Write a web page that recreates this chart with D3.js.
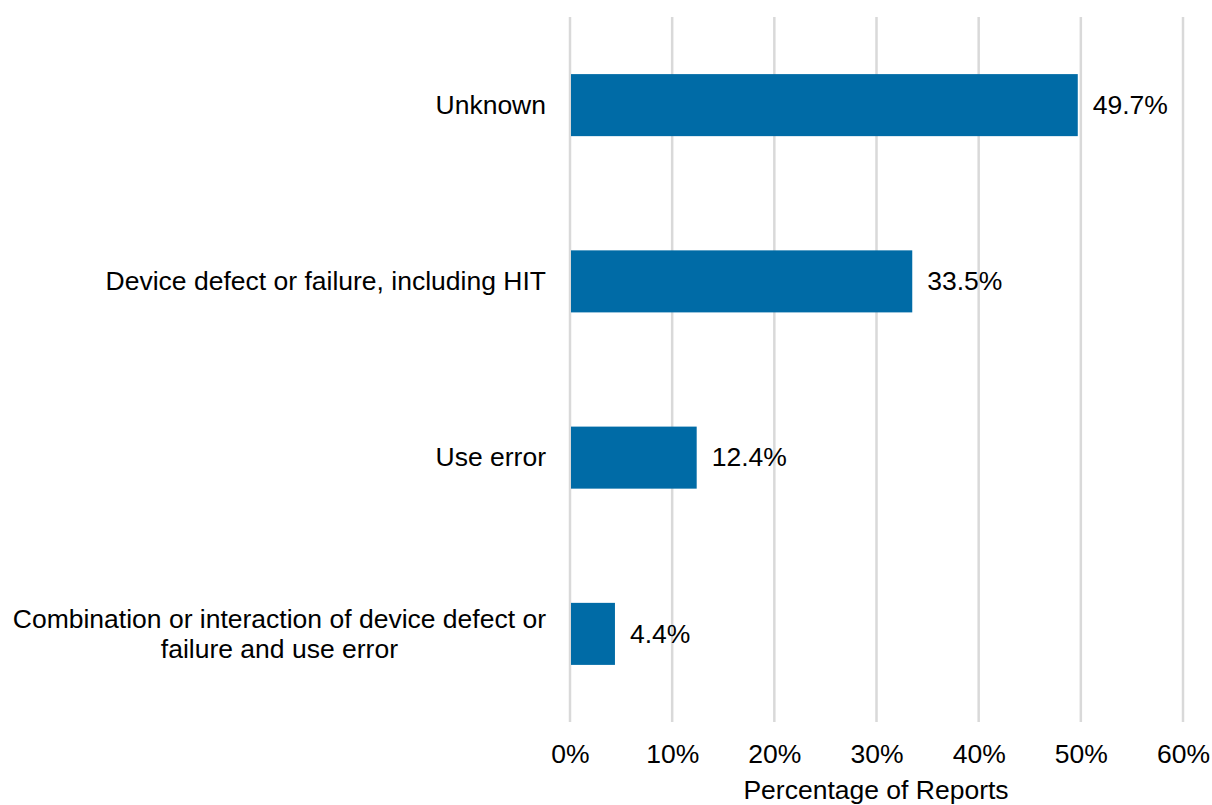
<!DOCTYPE html>
<html>
<head>
<meta charset="utf-8">
<script src="https://cdn.jsdelivr.net/npm/d3@7/dist/d3.min.js"></script>
<style>
  html, body { margin: 0; padding: 0; background: #ffffff; }
  svg { display: block; }
  text { font-family: "Liberation Sans", Arial, sans-serif; fill: #000000; }
</style>
</head>
<body>
<svg id="chart" width="1212" height="805"></svg>
<script>
const categories = [
  ["Unknown"],
  ["Device defect or failure, including HIT"],
  ["Use error"],
  ["Combination or interaction of device defect or", "failure and use error"]
];
const values = [49.7, 33.5, 12.4, 4.4];
const tickValues = [0, 10, 20, 30, 40, 50, 60];
const axisTitle = "Percentage of Reports";

const plotLeft = 570, plotRight = 1183, plotTop = 17, plotBottom = 722;
const fontSize = 26.5;

const svg = d3.select("#chart");
const keys = categories.map(c => c.join(" "));

const x = d3.scaleLinear().domain([0, 60]).range([plotLeft, plotRight]);
const y = d3.scaleBand().domain(keys).range([plotTop, plotBottom]).paddingInner(0.648).paddingOuter(0.324);

// gridlines
svg.append("g").selectAll("line").data(tickValues).join("line")
  .attr("x1", d => x(d)).attr("x2", d => x(d))
  .attr("y1", plotTop).attr("y2", plotBottom)
  .attr("stroke", "#d9d9d9").attr("stroke-width", 2.5);

// bars
svg.append("g").selectAll("rect").data(values).join("rect")
  .attr("x", x(0) + 1)
  .attr("y", (d, i) => y(keys[i]))
  .attr("width", d => x(d) - x(0) - 1)
  .attr("height", y.bandwidth())
  .attr("fill", "#006BA6");

// value labels
svg.append("g").selectAll("text").data(values).join("text")
  .attr("x", d => x(d) + 15)
  .attr("y", (d, i) => y(keys[i]) + y.bandwidth() / 2)
  .attr("dy", "0.33em")
  .attr("font-size", fontSize)
  .text(d => d.toFixed(1) + "%");

// category labels
const catG = svg.append("g");
categories.forEach((lines, i) => {
  const cy = y(keys[i]) + y.bandwidth() / 2;
  const lh = 30;
  if (lines.length === 1) {
    catG.append("text")
      .attr("x", 546).attr("y", cy).attr("dy", "0.33em")
      .attr("text-anchor", "end").attr("font-size", fontSize)
      .text(lines[0]);
  } else {
    const t = catG.append("text").attr("font-size", fontSize).attr("text-anchor", "middle");
    const spans = lines.map((l, j) => t.append("tspan")
      .attr("y", cy + (j - (lines.length - 1) / 2) * lh).attr("dy", "0.33em").text(l));
    const maxW = d3.max(spans, s => s.node().getComputedTextLength());
    const cx = 546 - maxW / 2;
    spans.forEach(s => s.attr("x", cx));
  }
});

// x axis tick labels
const axis = d3.axisBottom(x).tickValues(tickValues).tickFormat(d => d + "%").tickSize(0).tickPadding(0);
const ax = svg.append("g").attr("transform", "translate(0, 744)").call(axis);
ax.select(".domain").remove();
ax.selectAll("text").attr("font-size", fontSize)
  .attr("font-family", '"Liberation Sans", Arial, sans-serif')
  .attr("fill", "#000").attr("dy", "0.71em");

// axis title
svg.append("text")
  .attr("x", (plotLeft + plotRight) / 2 - 0.5)
  .attr("y", 798.5)
  .attr("text-anchor", "middle")
  .attr("font-size", fontSize)
  .text(axisTitle);
</script>
</body>
</html>
